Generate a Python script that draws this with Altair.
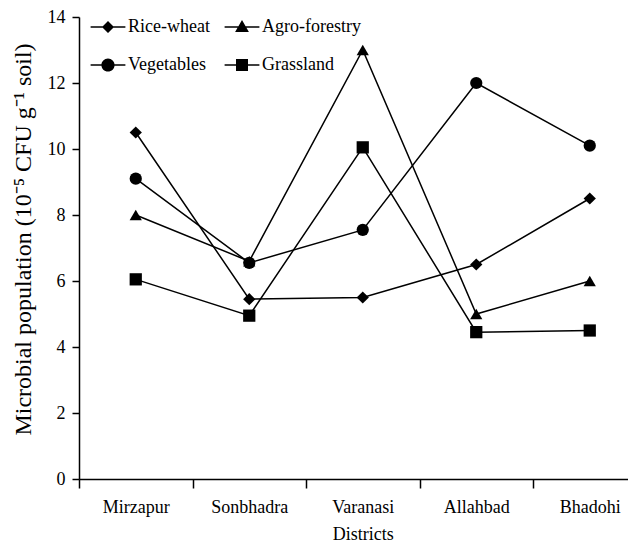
import altair as alt
import pandas as pd

districts = ["Mirzapur", "Sonbhadra", "Varanasi", "Allahbad", "Bhadohi"]
series = ["Rice-wheat", "Agro-forestry", "Vegetables", "Grassland"]
rice_wheat = [10.5, 5.45, 5.5, 6.5, 8.5]
agro_forestry = [8.0, 6.6, 13.0, 5.0, 6.0]
vegetables = [9.1, 6.55, 7.55, 12.0, 10.1]
grassland = [6.05, 4.95, 10.05, 4.45, 4.5]
y_ticks = [0, 2, 4, 6, 8, 10, 12, 14]

values = {"Rice-wheat": rice_wheat, "Agro-forestry": agro_forestry,
          "Vegetables": vegetables, "Grassland": grassland}
rows = []
for s in series:
    for d, v in zip(districts, values[s]):
        rows.append({"District": d, "Series": s, "Value": v})
df = pd.DataFrame(rows)

FONT = "Liberation Serif"
marker_shapes = ["diamond", "triangle-up", "circle", "square"]
# legend order (column-major fill gives the reference's row layout)
legend_order = ["Rice-wheat", "Vegetables", "Agro-forestry", "Grassland"]
LINE = "M-2.9,-0.13H2.9V0.13H-2.9Z"
legend_paths = [
    LINE + "M0,-1L1,0L0,1L-1,0Z",
    LINE + "M1.1,0A1.1,1.1,0,1,1,-1.1,0A1.1,1.1,0,1,1,1.1,0Z",
    LINE + "M0,-1.15L1.15,0.85L-1.15,0.85Z",
    LINE + "M-1,-1H1V1H-1Z",
]

x_enc = alt.X("District:N", sort=districts,
              scale=alt.Scale(type="band", domain=districts, range=[0, 567.5],
                              paddingInner=0, paddingOuter=0),
              axis=alt.Axis(title="Districts", tickBand="extent", tickSize=9,
                            labelPadding=10, titlePadding=9, labelAngle=0))
y_enc = alt.Y("Value:Q", scale=alt.Scale(domain=[0, 14]),
              axis=alt.Axis(values=y_ticks, tickSize=7, labelPadding=7,
                            title="Microbial population (10\u207b\u2075 CFU g\u207b\u00b9 soil)",
                            titleX=-49, titleY=222, titleAngle=270,
                            titleAlign="center", titleBaseline="alphabetic",
                            titleFontSize=24))

base = alt.Chart(df)
lines = base.mark_line(color="black", strokeWidth=1.5).encode(
    x=x_enc, y=y_enc, detail="Series:N")
points = base.mark_point(filled=True, color="black", size=150, opacity=1).encode(
    x=x_enc, y=y_enc,
    shape=alt.Shape("Series:N", scale=alt.Scale(domain=series, range=marker_shapes),
                    legend=None))
legend_layer = base.transform_filter("false").mark_point(
    filled=True, color="black", opacity=1).encode(
    shape=alt.Shape("Series:N", scale=alt.Scale(domain=legend_order, range=legend_paths),
                    legend=alt.Legend(title=None, orient="none", legendX=20, legendY=1,
                                      columns=2, symbolSize=144, labelOffset=11,
                                      rowPadding=20, columnPadding=14,
                                      labelFont=FONT, labelFontSize=18,
                                      labelColor="black", symbolStrokeWidth=0,
                                      symbolFillColor="black")))

chart = alt.layer(lines, points, legend_layer).resolve_scale(shape="independent").properties(
    width=549, height=462,
    autosize=alt.AutoSizeParams(type="none"),
    padding={"left": 71, "top": 9, "right": 0, "bottom": 66},
).configure_view(stroke=None).configure_axis(
    grid=False, domainColor="black", tickColor="black", domainWidth=1.5, tickWidth=1.5,
    labelFont=FONT, titleFont=FONT, labelFontSize=18, titleFontSize=18,
    labelColor="black", titleColor="black", titleFontWeight="normal",
)

chart.save("out.html", embed_options={"renderer": "svg", "actions": False})
